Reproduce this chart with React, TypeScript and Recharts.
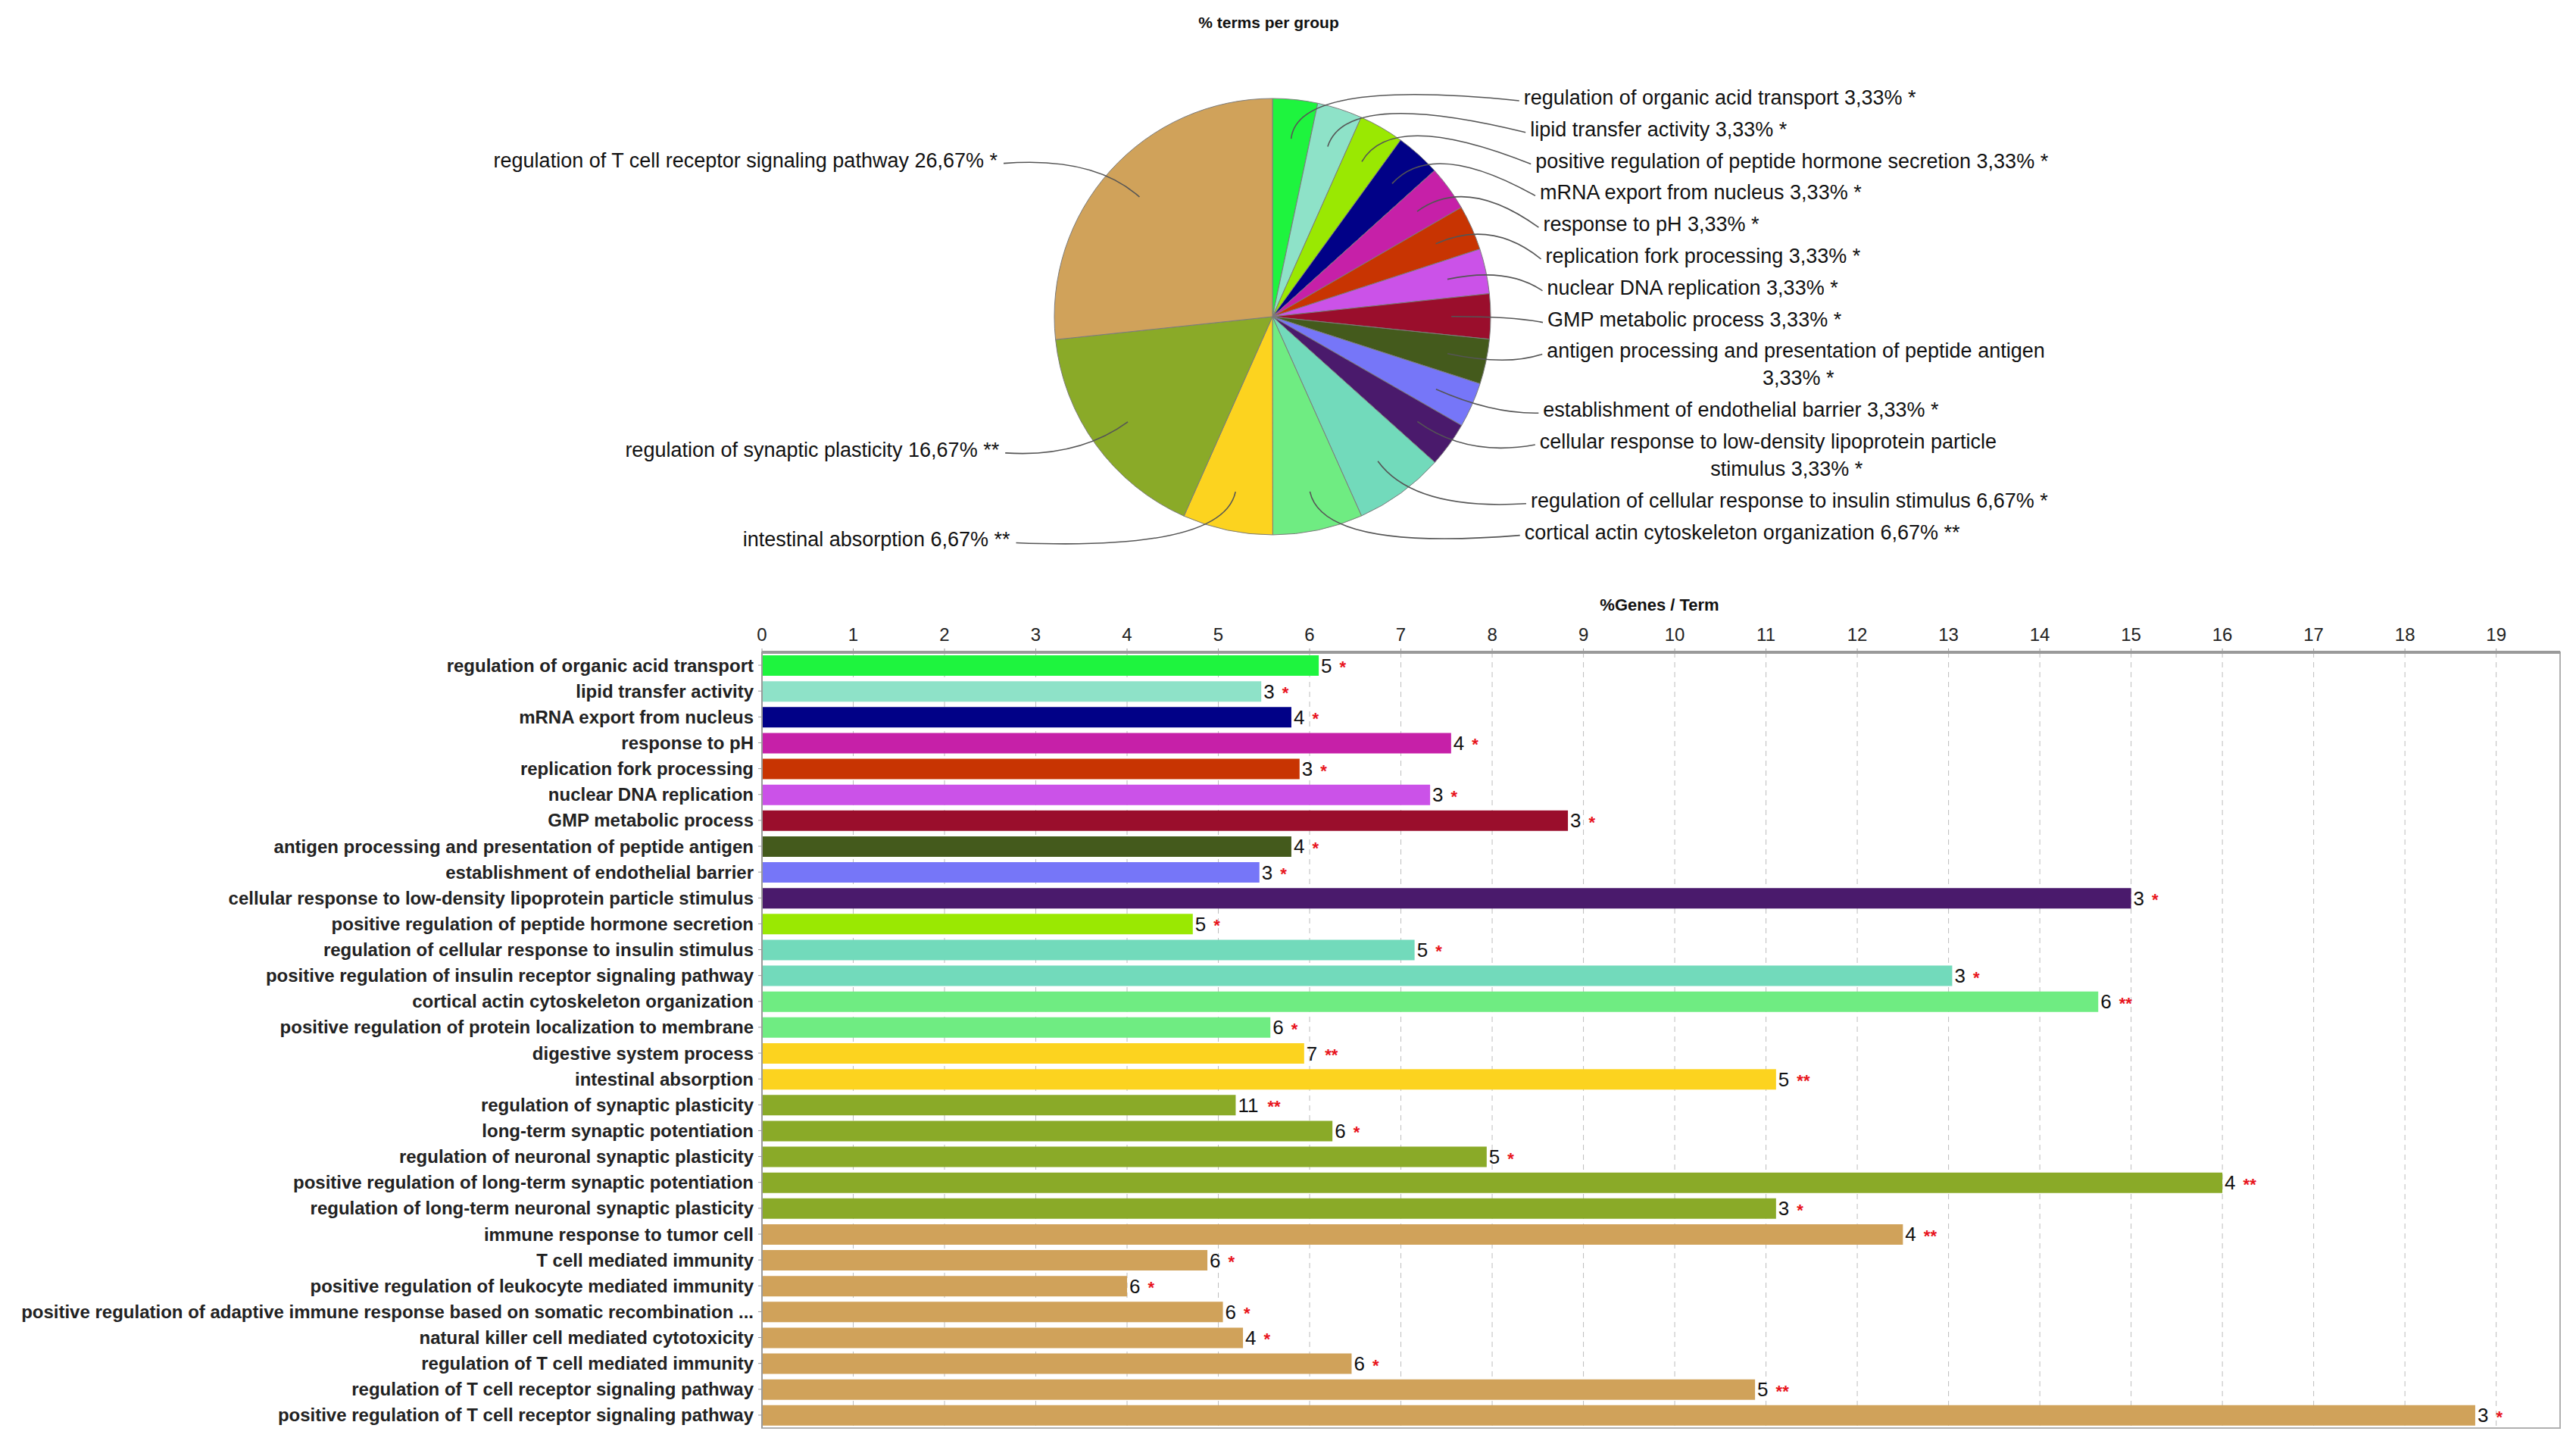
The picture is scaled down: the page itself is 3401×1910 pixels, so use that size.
import { PieChart, Pie, Cell, BarChart, Bar, XAxis, YAxis, CartesianGrid, LabelList, ReferenceArea } from 'recharts'

// pie: % terms per group
const groupNames = [
  'regulation of organic acid transport',
  'lipid transfer activity',
  'positive regulation of peptide hormone secretion',
  'mRNA export from nucleus',
  'response to pH',
  'replication fork processing',
  'nuclear DNA replication',
  'GMP metabolic process',
  'antigen processing and presentation of peptide antigen',
  'establishment of endothelial barrier',
  'cellular response to low-density lipoprotein particle stimulus',
  'regulation of cellular response to insulin stimulus',
  'cortical actin cytoskeleton organization',
  'intestinal absorption',
  'regulation of synaptic plasticity',
  'regulation of T cell receptor signaling pathway',
]
const groupShares = [3.33, 3.33, 3.33, 3.33, 3.33, 3.33, 3.33, 3.33, 3.33, 3.33, 3.33, 6.67, 6.67, 6.67, 16.67, 26.67]
const groupStars = ['*', '*', '*', '*', '*', '*', '*', '*', '*', '*', '*', '*', '**', '**', '**', '*']
const groupColors = [
  '#1ef43e', '#8ee2c8', '#9ae802', '#010187', '#c620a8', '#c83402', '#cb52e8', '#9a0e2c',
  '#445a1c', '#7676f8', '#4a1a6c', '#72dabb', '#6fec82', '#fcd31f', '#8aaa28', '#d0a25a',
]

// bars: %Genes / Term
const terms = [
  'regulation of organic acid transport',
  'lipid transfer activity',
  'mRNA export from nucleus',
  'response to pH',
  'replication fork processing',
  'nuclear DNA replication',
  'GMP metabolic process',
  'antigen processing and presentation of peptide antigen',
  'establishment of endothelial barrier',
  'cellular response to low-density lipoprotein particle stimulus',
  'positive regulation of peptide hormone secretion',
  'regulation of cellular response to insulin stimulus',
  'positive regulation of insulin receptor signaling pathway',
  'cortical actin cytoskeleton organization',
  'positive regulation of protein localization to membrane',
  'digestive system process',
  'intestinal absorption',
  'regulation of synaptic plasticity',
  'long-term synaptic potentiation',
  'regulation of neuronal synaptic plasticity',
  'positive regulation of long-term synaptic potentiation',
  'regulation of long-term neuronal synaptic plasticity',
  'immune response to tumor cell',
  'T cell mediated immunity',
  'positive regulation of leukocyte mediated immunity',
  'positive regulation of adaptive immune response based on somatic recombination ...',
  'natural killer cell mediated cytotoxicity',
  'regulation of T cell mediated immunity',
  'regulation of T cell receptor signaling pathway',
  'positive regulation of T cell receptor signaling pathway',
]
const genePercents = [
  6.1, 5.47, 5.8, 7.55, 5.89, 7.32, 8.83, 5.8, 5.45, 15.0, 4.72, 7.15, 13.04, 14.64, 5.57,
  5.94, 11.11, 5.19, 6.25, 7.94, 16.0, 11.11, 12.5, 4.88, 4.0, 5.05, 5.27, 6.46, 10.88, 18.77,
]
const geneCounts = [5, 3, 4, 4, 3, 3, 3, 4, 3, 3, 5, 5, 3, 6, 6, 7, 5, 11, 6, 5, 4, 3, 4, 6, 6, 6, 4, 6, 5, 3]
const termStars = [
  '*', '*', '*', '*', '*', '*', '*', '*', '*', '*', '*', '*', '*', '**', '*',
  '**', '**', '**', '*', '*', '**', '*', '**', '*', '*', '*', '*', '*', '**', '*',
]
const termColors = [
  '#1ef43e', '#8ee2c8', '#010187', '#c620a8', '#c83402', '#cb52e8', '#9a0e2c', '#445a1c', '#7676f8', '#4a1a6c',
  '#9ae802', '#72dabb', '#72dabb', '#6fec82', '#6fec82', '#fcd31f', '#fcd31f', '#8aaa28', '#8aaa28', '#8aaa28',
  '#8aaa28', '#8aaa28', '#d0a25a', '#d0a25a', '#d0a25a', '#d0a25a', '#d0a25a', '#d0a25a', '#d0a25a', '#d0a25a',
]
const xTicks = [0, 1, 2, 3, 4, 5, 6, 7, 8, 9, 10, 11, 12, 13, 14, 15, 16, 17, 18, 19]
const xMax = 19.7

const FONT = '"Liberation Sans", Arial, sans-serif'

const pieData = groupNames.map((name, i) => ({ name, value: groupShares[i] }))
const barData = terms.map((term, i) => ({ term, pct: genePercents[i], tag: `${geneCounts[i]}|${termStars[i]}` }))

const labelText = (i: number) =>
  `${groupNames[i]} ${groupShares[i].toFixed(2).replace('.', ',')}% ${groupStars[i]}`

function wrapText(text: string, max: number) {
  if (text.length <= 60) return [text]
  const words = text.split(' ')
  const lines: string[] = []
  let cur = ''
  for (const w of words) {
    const next = cur ? cur + ' ' + w : w
    if (next.length > max && cur) {
      lines.push(cur)
      cur = w
    } else cur = next
  }
  if (cur) lines.push(cur)
  return lines
}

function PieLabel(props: any) {
  const { cx, cy, midAngle, outerRadius, index } = props
  const rad = Math.PI / 180
  const cos = Math.cos(-midAngle * rad)
  const sin = Math.sin(-midAngle * rad)
  const sx = cx + outerRadius * 0.82 * cos
  const sy = cy + outerRadius * 0.82 * sin
  const mx = cx + outerRadius * 1.1 * cos
  const my = cy + outerRadius * 1.1 * sin
  const text = labelText(index)

  if (cos >= 0) {
    let wraps = 0
    for (let j = 0; j < index; j++) if (labelText(j).length > 60) wraps++
    const y = cy - outerRadius - 1 + index * 41.8 + wraps * 36
    const d = (y - cy) / outerRadius
    const x = cx + outerRadius + 75 - 31 * d * d
    const lines = wrapText(text, 54)
    const w1 = lines[0].length * 12.3
    return (
      <g>
        <path d={`M${sx},${sy} Q${mx},${my} ${x - 6},${y + 4}`} fill="none" stroke="#555" strokeWidth={1.6} />
        {lines.map((ln, k) => (
          <text
            key={k}
            x={k === 0 ? x : x + w1 / 2}
            y={y + k * 36}
            textAnchor={k === 0 ? 'start' : 'middle'}
            dominantBaseline="central"
            fontSize={27}
            fontFamily={FONT}
            fill="#111"
          >
            {ln}
          </text>
        ))}
      </g>
    )
  }
  const y = cy + (outerRadius + 16) * sin - 3
  const d = Math.max(0, sin)
  const x = cx - outerRadius - 75 + 18 * d ** 4
  return (
    <g>
      <path d={`M${sx},${sy} Q${mx},${my} ${x + 8},${y + 4}`} fill="none" stroke="#555" strokeWidth={1.6} />
      <text x={x} y={y} textAnchor="end" dominantBaseline="central" fontSize={27} fontFamily={FONT} fill="#111">
        {text}
      </text>
    </g>
  )
}

function TermTick(props: any) {
  const { x, y, payload } = props
  return (
    <text x={x - 4} y={y} textAnchor="end" dominantBaseline="central" fontSize={24} fontWeight="bold" fontFamily={FONT} fill="#222">
      {payload.value}
    </text>
  )
}

function ValueTag(props: any) {
  const { x, y, width, height, value } = props
  const [count, stars] = String(value).split('|')
  const tx = x + width + 3
  const cy = y + height / 2
  return (
    <g>
      <text x={tx} y={cy} dominantBaseline="central" fontSize={26} fontFamily={FONT} fill="#111">
        {count}
      </text>
      <text x={tx + count.length * 14.5 + 10} y={cy + 2} dominantBaseline="central" fontSize={22} fontWeight="bold" fontFamily={FONT} fill="#e8141c">
        {stars}
      </text>
    </g>
  )
}

export default function App() {
  return (
    <div style={{ position: 'relative', width: 3401, height: 1910, margin: -8, background: '#fff', fontFamily: FONT }}>
      <span style={{ position: 'absolute', left: 1675, top: 18, transform: 'translateX(-50%)', fontSize: 21, fontWeight: 'bold', color: '#111', whiteSpace: 'nowrap' }}>
        % terms per group
      </span>
      <div style={{ position: 'absolute', left: 0, top: 0 }}>
        <PieChart width={3401} height={770}>
          <Pie
            data={pieData}
            dataKey="value"
            nameKey="name"
            cx={1675}
            cy={413}
            outerRadius={288}
            startAngle={90}
            endAngle={-270}
            stroke="#7c7c7c"
            strokeWidth={1}
            label={PieLabel}
            labelLine={false}
            isAnimationActive={false}
          >
            {pieData.map((_, i) => (
              <Cell key={`slice-${i}`} fill={groupColors[i]} />
            ))}
          </Pie>
        </PieChart>
      </div>
      <span style={{ position: 'absolute', left: 2191, top: 786, transform: 'translateX(-50%)', fontSize: 22, fontWeight: 'bold', color: '#111', whiteSpace: 'nowrap' }}>
        %Genes / Term
      </span>
      <div style={{ position: 'absolute', left: 0, top: 780 }}>
        <BarChart
          width={3401}
          height={1130}
          data={barData}
          layout="vertical"
          margin={{ top: 41, right: 21, bottom: 25, left: 0 }}
          barSize={27}
        >
          <CartesianGrid horizontal={false} stroke="#bdbdbd" strokeDasharray="7 6" />
          <ReferenceArea x1={0} x2={xMax} fill="none" stroke="#b0b0b0" strokeWidth={2} ifOverflow="extendDomain" />
          <XAxis
            type="number"
            orientation="top"
            domain={[0, xMax]}
            ticks={xTicks}
            height={40}
            axisLine={{ stroke: '#9a9a9a', strokeWidth: 4 }}
            tickLine={{ stroke: '#9a9a9a' }}
            tickSize={5}
            tickMargin={10}
            tick={{ fontSize: 24, fill: '#222', fontFamily: FONT }}
          />
          <YAxis
            type="category"
            dataKey="term"
            width={1006}
            interval={0}
            axisLine={{ stroke: '#9a9a9a', strokeWidth: 2 }}
            tickLine={{ stroke: '#9a9a9a' }}
            tickSize={5}
            tick={<TermTick />}
          />
          <Bar dataKey="pct" isAnimationActive={false}>
            {barData.map((_, i) => (
              <Cell key={`bar-${i}`} fill={termColors[i]} />
            ))}
            <LabelList dataKey="tag" content={<ValueTag />} />
          </Bar>
        </BarChart>
      </div>
    </div>
  )
}
